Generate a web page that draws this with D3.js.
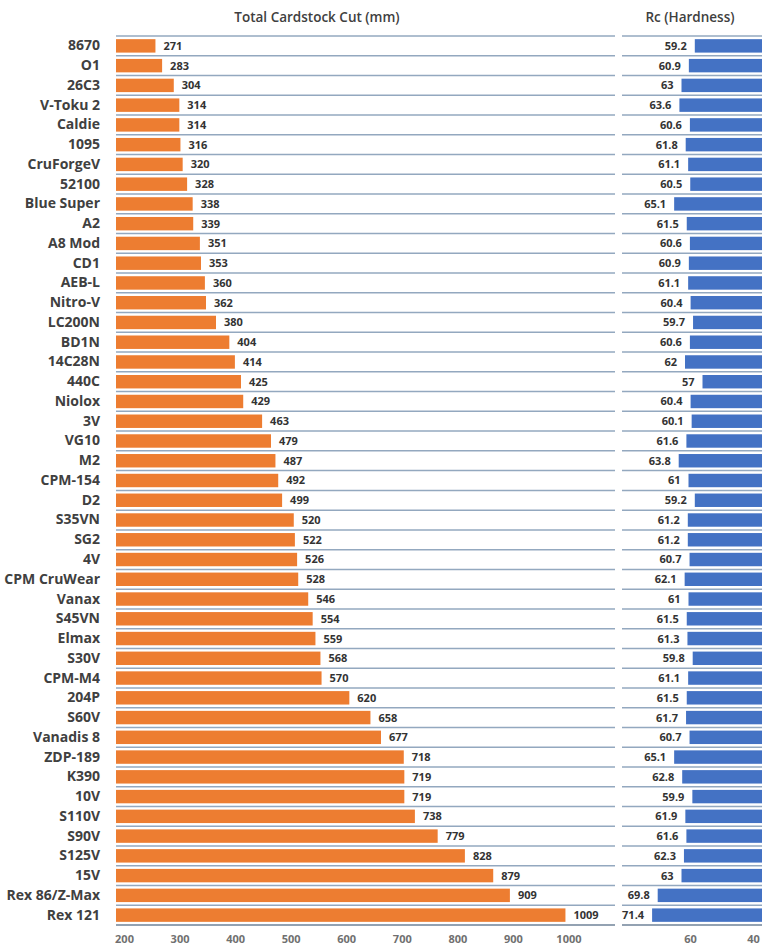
<!DOCTYPE html>
<html>
<head>
<meta charset="utf-8">
<script src="https://cdn.jsdelivr.net/npm/d3@7"></script>
<style>
  html, body { margin: 0; padding: 0; background: #ffffff; }
  svg { display: block; font-family: "Open Sans", sans-serif; }
</style>
</head>
<body>
<svg id="chart" width="768" height="951"></svg>
<script>
const categories = ["8670","O1","26C3","V-Toku 2","Caldie","1095","CruForgeV","52100","Blue Super","A2","A8 Mod","CD1","AEB-L","Nitro-V","LC200N","BD1N","14C28N","440C","Niolox","3V","VG10","M2","CPM-154","D2","S35VN","SG2","4V","CPM CruWear","Vanax","S45VN","Elmax","S30V","CPM-M4","204P","S60V","Vanadis 8","ZDP-189","K390","10V","S110V","S90V","S125V","15V","Rex 86/Z-Max","Rex 121"];
const cutValues = [271,283,304,314,314,316,320,328,338,339,351,353,360,362,380,404,414,425,429,463,479,487,492,499,520,522,526,528,546,554,559,568,570,620,658,677,718,719,719,738,779,828,879,909,1009];
const hardnessValues = [59.2,60.9,63,63.6,60.6,61.8,61.1,60.5,65.1,61.5,60.6,60.9,61.1,60.4,59.7,60.6,62,57,60.4,60.1,61.6,63.8,61,59.2,61.2,61.2,60.7,62.1,61,61.5,61.3,59.8,61.1,61.5,61.7,60.7,65.1,62.8,59.9,61.9,61.6,62.3,63,69.8,71.4];
const cutTicks = [200,300,400,500,600,700,800,900,1000];
const hardTicks = [60,40];
const cutTitle = "Total Cardstock Cut (mm)";
const hardTitle = "Rc (Hardness)";

const svg = d3.select("#chart");
const data = categories.map((c, i) => ({ c, cut: cutValues[i], h: hardnessValues[i] }));

const y = d3.scaleBand().domain(categories).range([36, 925]).paddingInner(0.32).paddingOuter(0.16);
const yLine = d3.scaleBand().domain(categories).range([36, 925]).padding(0);

const xCut = d3.scaleLinear().domain([200, 1100]).range([116, 616]);
const xHard = d3.scaleLinear().domain([40, 80]).range([762, 622]);

const orange = "#ED7D31", blue = "#4472C4";
const gridColor = "#93a8bf";

// gridlines (row separators)
const bounds = categories.map(c => yLine(c));
const gl = svg.append("g");
bounds.forEach(b => {
  gl.append("line").attr("x1", xCut.range()[0]).attr("x2", 615).attr("y1", b).attr("y2", b)
    .attr("stroke", gridColor).attr("stroke-width", 1.5);
  gl.append("line").attr("x1", xHard.range()[1]).attr("x2", xHard.range()[0]).attr("y1", b).attr("y2", b)
    .attr("stroke", gridColor).attr("stroke-width", 1.5);
});
// bottom axis lines
gl.append("line").attr("x1", 116).attr("x2", 615).attr("y1", 925).attr("y2", 925).attr("stroke", "#6f8399").attr("stroke-width", 1.5);
gl.append("line").attr("x1", 622).attr("x2", 762).attr("y1", 925).attr("y2", 925).attr("stroke", "#6f8399").attr("stroke-width", 1.5);

// left bars
svg.append("g").selectAll("rect").data(data).join("rect")
  .attr("x", xCut(200)).attr("y", d => y(d.c))
  .attr("width", d => xCut(d.cut) - xCut(200)).attr("height", y.bandwidth())
  .attr("fill", orange);

svg.append("g").selectAll("text").data(data).join("text")
  .attr("x", d => xCut(d.cut) + 8).attr("y", d => y(d.c) + y.bandwidth() / 2)
  .attr("dy", "0.36em").attr("font-size", 11).attr("font-weight", 700).attr("fill", "#333333")
  .text(d => d.cut);

// right bars
svg.append("g").selectAll("rect").data(data).join("rect")
  .attr("x", d => xHard(d.h)).attr("y", d => y(d.c))
  .attr("width", d => xHard(40) - xHard(d.h)).attr("height", y.bandwidth())
  .attr("fill", blue);

svg.append("g").selectAll("text").data(data).join("text")
  .attr("x", d => xHard(d.h) - 8).attr("y", d => y(d.c) + y.bandwidth() / 2)
  .attr("dy", "0.36em").attr("text-anchor", "end").attr("font-size", 11).attr("font-weight", 700).attr("fill", "#333333")
  .text(d => d.h);

// category labels
const yAxis = svg.append("g").attr("transform", "translate(116,0)")
  .call(d3.axisLeft(y).tickSize(0).tickPadding(16));
yAxis.select(".domain").remove();
yAxis.selectAll("text").attr("font-size", 14).attr("font-weight", 700).attr("fill", "#404040")
  .attr("font-family", "Open Sans, sans-serif");

// bottom axes
const xAxisL = svg.append("g").attr("transform", "translate(8,925)")
  .call(d3.axisBottom(xCut).tickValues(cutTicks).tickFormat(d3.format("d")).tickSize(0).tickPadding(10));
xAxisL.select(".domain").remove();
xAxisL.selectAll("text").attr("font-size", 11).attr("font-weight", 700).attr("fill", "#707070")
  .attr("font-family", "Open Sans, sans-serif");

const xAxisR = svg.append("g").attr("transform", "translate(0,925)")
  .call(d3.axisBottom(xHard).tickValues(hardTicks).tickFormat(d3.format("d")).tickSize(0).tickPadding(10));
xAxisR.select(".domain").remove();
xAxisR.selectAll("text").attr("font-size", 11).attr("font-weight", 700).attr("fill", "#707070")
  .attr("font-family", "Open Sans, sans-serif")
  .attr("dx", d => d === 40 ? -9 : -2);

// titles
svg.append("text").attr("x", 317).attr("y", 22).attr("text-anchor", "middle")
  .attr("font-size", 13.5).attr("font-weight", 600).attr("fill", "#404040").text(cutTitle);
svg.append("text").attr("x", 690).attr("y", 22).attr("text-anchor", "middle")
  .attr("font-size", 13.5).attr("font-weight", 600).attr("fill", "#404040").text(hardTitle);
</script>
</body>
</html>
